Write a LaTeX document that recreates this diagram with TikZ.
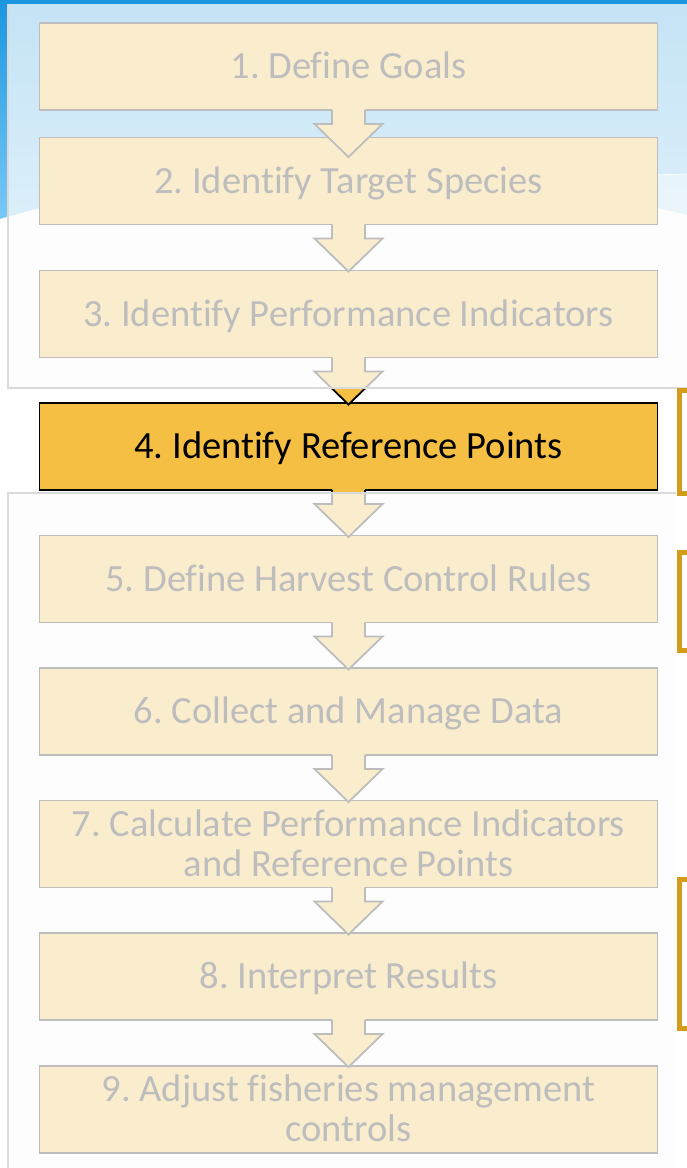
\documentclass[tikz,border=0pt]{standalone}
\usepackage{fontspec}
\setmainfont{Carlito}[Ligatures={NoCommon}]
\frenchspacing
\definecolor{gold}{RGB}{244,191,66}
\definecolor{brk}{RGB}{212,156,26}
\definecolor{skytop}{RGB}{26,150,224}
\definecolor{skybot}{RGB}{125,203,247}
\definecolor{ovl}{RGB}{253,253,253}
\definecolor{ovledge}{RGB}{218,218,218}
\tikzset{
  stepbox/.style={draw=black, line width=1.8pt, fill=gold, minimum width=618pt, minimum height=87pt, inner sep=0pt, outer sep=0pt},
  steptext/.style={font=\fontsize{38.5}{40}\selectfont, text=black, inner sep=0pt, anchor=base, align=center},
  arrowline/.style={draw=black, line width=1.8pt, line join=miter},
  bracketbox/.style={draw=brk, line width=5pt, fill=white},
  veil/.style={fill=ovl, fill opacity=0.75},
  veiledge/.style={draw=ovledge, line width=1.5pt},
  blockarrow/.pic={
    \fill[gold] (-16.5,-1.2) -- (-16.5,14) -- (-34,14) -- (0,47) -- (34,14) -- (16.5,14) -- (16.5,-1.2) -- cycle;
    \draw[arrowline] (-16.5,-0.2) -- (-16.5,14) -- (-34,14) -- (0,47) -- (34,14) -- (16.5,14) -- (16.5,-0.2);
  }
}
\begin{document}
\begin{tikzpicture}[x=1pt,y=-1pt]
\useasboundingbox (0,0) rectangle (687,1168);
\clip (0,0) rectangle (687,1168);
% background
\fill[white] (0,0) rectangle (687,1168);
\shade[top color=skytop, bottom color=skybot] (0,0) rectangle (687,228);
\fill[white, fill opacity=0.45] (200,206) .. controls (400,184) and (550,178) .. (687,174) -- (687,235) -- (200,235) -- cycle;
\draw[white, line width=0.8pt] (200,206) .. controls (400,184) and (550,178) .. (687,174);
\fill[white] (0,219) .. controls (200,160) and (480,165) .. (687,215) -- (687,240) -- (0,240) -- cycle;
% boxes
\node[stepbox] (b1) at (348.5,66.5) {};
\node[stepbox] (b2) at (348.5,181) {};
\node[stepbox] (b3) at (348.5,314) {};
\node[stepbox] (b4) at (348.5,446.5) {};
\node[stepbox] (b5) at (348.5,579) {};
\node[stepbox] (b6) at (348.5,711.5) {};
\node[stepbox] (b7) at (348.5,844) {};
\node[stepbox] (b8) at (348.5,976.5) {};
\node[stepbox] (b9) at (348.5,1109.5) {};
% texts
\node[steptext] (t1) at (348.5,78.5) {1. Define Goals};
\node[steptext] (t2) at (348.5,193) {2. Identify Target Species};
\node[steptext] (t3) at (348.5,326) {3. Identify Performance Indicators};
\node[steptext] (t4) at (348.5,458.5) {4. Identify Reference Points};
\node[steptext] (t5) at (348.5,591) {5. Define Harvest Control Rules};
\node[steptext] (t6) at (348.5,723.5) {6. Collect and Manage Data};
\node[steptext] (t7) at (348.5,876) {7. Calculate Performance Indicators\\and Reference Points};
\node[steptext] (t8) at (348.5,988.5) {8. Interpret Results};
\node[steptext] (t9) at (348.5,1141.5) {9. Adjust fisheries management\\controls};
% arrows
\pic at (b1.south) {blockarrow};
\pic at (b2.south) {blockarrow};
\pic at (b3.south) {blockarrow};
\pic at (b4.south) {blockarrow};
\pic at (b5.south) {blockarrow};
\pic at (b6.south) {blockarrow};
\pic at (b7.south) {blockarrow};
\pic at (b8.south) {blockarrow};
% veils
\fill[veil] (8,4) rectangle (700,388);
\draw[veiledge] (700,388) -- (8,388) -- (8,4);
\fill[veil] (8,493) rectangle (676,1180);
\draw[veiledge] (676,493) -- (8,493) -- (8,1180);
% brackets on the right
\draw[bracketbox] (679.5,390.5) rectangle (720,493);
\draw[bracketbox] (679.5,552.5) rectangle (720,650);
\draw[bracketbox] (679.5,879) rectangle (720,1028);
\end{tikzpicture}
\end{document}
